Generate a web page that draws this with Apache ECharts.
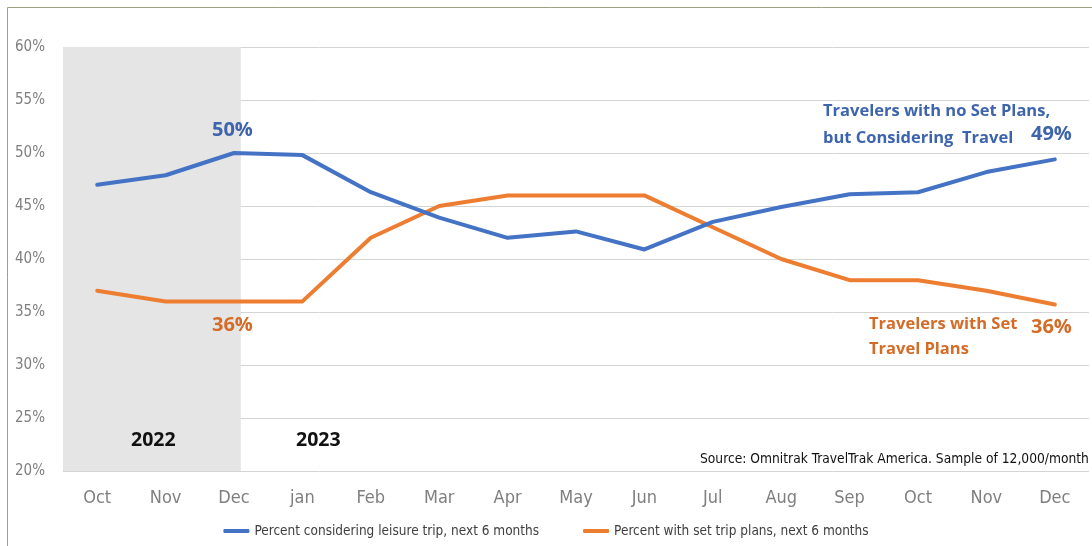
<!DOCTYPE html>
<html>
<head>
<meta charset="utf-8">
<script src="https://cdn.jsdelivr.net/npm/echarts@6/dist/echarts.min.js"></script>
<style>
  html, body { margin: 0; padding: 0; background: #fff; }
  #chart { width: 1092px; height: 546px; }
</style>
</head>
<body>
<div id="chart"></div>
<script>
  // months, Oct 2022 .. Dec 2023
  const months = ['Oct', 'Nov', 'Dec', 'jan', 'Feb', 'Mar', 'Apr', 'May', 'Jun', 'Jul', 'Aug', 'Sep', 'Oct', 'Nov', 'Dec'];
  // percent considering leisure trip, next 6 months
  const considering = [47.0, 47.9, 50.0, 49.8, 46.3, 43.9, 42.0, 42.6, 40.9, 43.5, 44.9, 46.1, 46.3, 48.2, 49.4];
  // percent with set trip plans, next 6 months
  const setPlans = [37.0, 36.0, 36.0, 36.0, 42.0, 45.0, 46.0, 46.0, 46.0, 43.0, 40.0, 38.0, 38.0, 37.0, 35.7];
  const legendNames = ['Percent considering leisure trip, next 6 months', 'Percent with set trip plans, next 6 months'];

  const BLUE = '#4472C4';
  const ORANGE = '#ED7D31';
  const narrow = "'DejaVu Sans Condensed', 'Liberation Sans', sans-serif";
  const bold = "'Open Sans', sans-serif";

  let myChart = echarts.init(document.getElementById('chart'));
  myChart.setOption({
    animation: false,
    backgroundColor: '#fff',
    grid: { left: 63, right: 3, top: 47, bottom: 75 },
    legend: {
      bottom: 3,
      left: 'center',
      itemGap: 44,
      itemWidth: 26,
      itemHeight: 4,
      icon: 'roundRect',
      textStyle: { fontFamily: narrow, fontSize: 13.5, color: '#404040' },
      data: legendNames
    },
    xAxis: [
      {
        type: 'category',
        data: months,
        axisLine: { show: false },
        axisTick: { show: false },
        axisLabel: { fontFamily: narrow, fontSize: 18, color: '#7f7f7f', margin: 18 }
      },
      {
        // hidden helper axis used only to place the 2022 shading
        type: 'value',
        min: -0.5,
        max: 14.5,
        show: false
      }
    ],
    yAxis: {
      type: 'value',
      min: 20,
      max: 60,
      interval: 5,
      axisLine: { show: false },
      axisTick: { show: false },
      splitLine: { lineStyle: { color: '#d4d4d4', width: 1 } },
      axisLabel: { formatter: '{value}%', fontFamily: narrow, fontSize: 15, color: '#7f7f7f', margin: 18 }
    },
    series: [
      {
        name: 'shade2022',
        type: 'line',
        xAxisIndex: 1,
        data: [],
        silent: true,
        z: 0,
        markArea: {
          silent: true,
          itemStyle: { color: '#e5e5e5' },
          data: [[{ xAxis: -0.5 }, { xAxis: 2.1 }]]
        }
      },
      {
        name: legendNames[0],
        type: 'line',
        data: considering,
        symbol: 'none',
        z: 3,
        lineStyle: { color: BLUE, width: 4, cap: 'round', join: 'round' },
        itemStyle: { color: BLUE }
      },
      {
        name: legendNames[1],
        type: 'line',
        data: setPlans,
        symbol: 'none',
        z: 2,
        lineStyle: { color: ORANGE, width: 4, cap: 'round', join: 'round' },
        itemStyle: { color: ORANGE }
      }
    ],
    graphic: [
      { type: 'rect', z: -10, shape: { x: 7.5, y: 7.5, width: 1200, height: 700 }, style: { fill: 'none', stroke: '#9ea27e', lineWidth: 1 }, silent: true },
      { type: 'text', z: 100, left: 212, top: 120, style: { text: '50%', font: 'bold 20px ' + bold, fill: '#3d64ad' } },
      { type: 'text', z: 100, left: 212, top: 315, style: { text: '36%', font: 'bold 20px ' + bold, fill: '#d46c28' } },
      { type: 'text', z: 100, left: 823, top: 98, style: { text: 'Travelers with no Set Plans,\nbut Considering  Travel', font: 'bold 16.5px ' + bold, lineHeight: 27, fill: '#3d64ad' } },
      { type: 'text', z: 100, left: 1031, top: 124, style: { text: '49%', font: 'bold 20px ' + bold, fill: '#3d64ad' } },
      { type: 'text', z: 100, left: 869, top: 312, style: { text: 'Travelers with Set\nTravel Plans', font: 'bold 16.5px ' + bold, lineHeight: 25, fill: '#d46c28' } },
      { type: 'text', z: 100, left: 1031, top: 317, style: { text: '36%', font: 'bold 20px ' + bold, fill: '#d46c28' } },
      { type: 'text', z: 100, left: 131, top: 430, style: { text: '2022', font: 'bold 19.5px ' + bold, fill: '#111' } },
      { type: 'text', z: 100, left: 296, top: 430, style: { text: '2023', font: 'bold 19.5px ' + bold, fill: '#111' } },
      { type: 'text', z: 100, left: 700, top: 452, style: { text: 'Source: Omnitrak TravelTrak America. Sample of 12,000/month', font: '13.7px ' + narrow, fill: '#111' } }
    ]
  });
</script>
</body>
</html>
